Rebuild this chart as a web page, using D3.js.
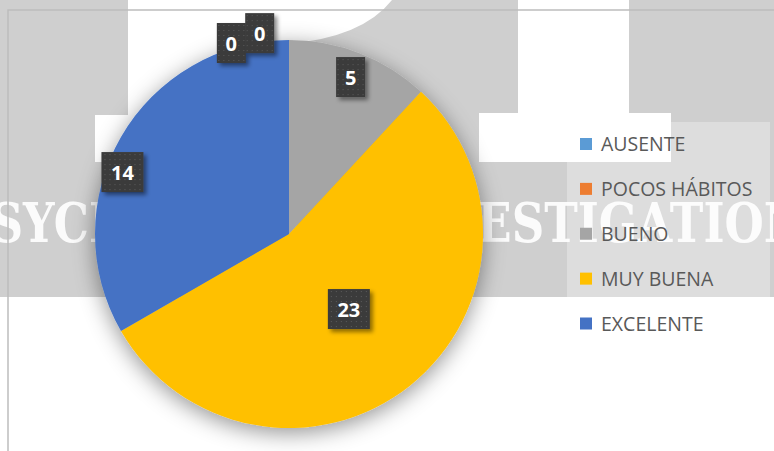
<!DOCTYPE html>
<html>
<head>
<meta charset="utf-8">
<script src="https://cdn.jsdelivr.net/npm/d3@7"></script>
<style>
  html, body { margin: 0; padding: 0; background: #ffffff; }
  svg { display: block; }
</style>
</head>
<body>
<svg id="chart" width="774" height="451"></svg>
<script>
// ---- data ----
const categories = ["AUSENTE", "POCOS HÁBITOS", "BUENO", "MUY BUENA", "EXCELENTE"];
const values = [0, 0, 5, 23, 14];
const colors = ["#5B9BD5", "#ED7D31", "#A5A5A5", "#FFC000", "#4472C4"];
const watermarkWords = ["PSYCHOLOGY", "INVESTIGATION"];

// ---- layout ----
const W = 774, H = 451;
const cx = 289, cy = 234, R = 194;
// label placement: angular shift (deg) from slice mid-angle and radius
const labelPlacement = [
  { da: -16.8, r: 199.5 },
  { da: -8.3, r: 203 },
  { da: 0, r: 168.6 },
  { da: 0, r: 96 },
  { da: -9.6, r: 177.7 }
];

const svg = d3.select("#chart");
const defs = svg.append("defs");

// pie shadow
const f1 = defs.append("filter").attr("id", "pieShadow")
  .attr("x", "-30%").attr("y", "-30%").attr("width", "160%").attr("height", "160%");
f1.append("feDropShadow").attr("dx", 0).attr("dy", 5).attr("stdDeviation", 11)
  .attr("flood-color", "#000").attr("flood-opacity", 0.42);

// label shadow
const f2 = defs.append("filter").attr("id", "lblShadow")
  .attr("x", "-30%").attr("y", "-30%").attr("width", "160%").attr("height", "160%");
f2.append("feDropShadow").attr("dx", 3).attr("dy", 3).attr("stdDeviation", 2)
  .attr("flood-color", "#000").attr("flood-opacity", 0.45);

// dotted pattern for label boxes
const pat = defs.append("pattern").attr("id", "dots").attr("patternUnits", "userSpaceOnUse")
  .attr("width", 5).attr("height", 5);
pat.append("rect").attr("width", 5).attr("height", 5).attr("fill", "#3b3b3b");
pat.append("rect").attr("x", 2).attr("y", 2).attr("width", 1).attr("height", 1).attr("fill", "#5a5a5a");

// ---- background watermark ----
const bg = svg.append("g");
bg.append("rect").attr("x", 0).attr("y", 0).attr("width", W).attr("height", 297).attr("fill", "#cfcfcf");
// white "P" shape
bg.append("path")
  .attr("d", "M128,0 L392,0 Q362,38 286,44 L250,44 L250,115 L275,115 L275,162 L95,162 L95,115 L128,115 Z")
  .attr("fill", "#ffffff");
// white "I" shape
bg.append("path")
  .attr("d", "M518,0 L629,0 L629,113 L671,113 L671,162 L479,162 L479,113 L518,113 Z")
  .attr("fill", "#ffffff");

// watermark text
bg.append("text")
  .attr("x", -42).attr("y", 242)
  .attr("textLength", 350).attr("lengthAdjust", "spacingAndGlyphs")
  .attr("font-family", "'DejaVu Serif', serif").attr("font-weight", "bold")
  .attr("font-size", 55).attr("fill", "#ffffff").attr("fill-opacity", 0.92)
  .text(watermarkWords[0]);
bg.append("text")
  .attr("x", 380).attr("y", 242)
  .attr("textLength", 425).attr("lengthAdjust", "spacingAndGlyphs")
  .attr("font-family", "'DejaVu Serif', serif").attr("font-weight", "bold")
  .attr("font-size", 55).attr("fill", "#ffffff").attr("fill-opacity", 0.92)
  .text(watermarkWords[1]);

// plot area border
svg.append("path")
  .attr("d", `M8,${H} L8,10 L${W},10`)
  .attr("fill", "none").attr("stroke", "#bdbdbd").attr("stroke-width", 1.5);

// ---- pie ----
const pie = d3.pie().sort(null).value(d => d.v).startAngle(0).endAngle(2 * Math.PI);
const data = categories.map((c, i) => ({ c, v: values[i], col: colors[i] }));
const arcs = pie(data);
const arc = d3.arc().innerRadius(0).outerRadius(R);

const pg = svg.append("g").attr("transform", `translate(${cx},${cy})`)
  .attr("filter", "url(#pieShadow)");
pg.selectAll("path").data(arcs.filter(a => a.data.v > 0)).enter().append("path")
  .attr("d", arc).attr("fill", d => d.data.col);

// ---- legend ----
svg.append("rect").attr("x", 567).attr("y", 122).attr("width", 203).attr("height", 224)
  .attr("fill", "#ffffff").attr("fill-opacity", 0.3);
const ly = d3.scalePoint().domain(categories).range([144, 323.5]);
const lg = svg.append("g");
const items = lg.selectAll("g").data(data).enter().append("g")
  .attr("transform", d => `translate(580,${ly(d.c)})`);
items.append("rect").attr("x", 0).attr("y", -6).attr("width", 12).attr("height", 12)
  .attr("fill", d => d.col);
items.append("text").attr("x", 21).attr("y", 7)
  .attr("font-family", "'Open Sans', sans-serif").attr("font-size", 19.5)
  .attr("fill", "#595959").text(d => d.c);

// ---- data labels ----
const lblG = svg.append("g");
arcs.forEach((a, i) => {
  const mid = (a.startAngle + a.endAngle) / 2 + labelPlacement[i].da * Math.PI / 180;
  const x = cx + labelPlacement[i].r * Math.sin(mid);
  const y = cy - labelPlacement[i].r * Math.cos(mid);
  const txt = String(a.data.v);
  const w = txt.length === 1 ? 29 : 42;
  const g = lblG.append("g").attr("transform", `translate(${x},${y})`);
  g.append("rect").attr("x", -w / 2).attr("y", -20).attr("width", w).attr("height", 40)
    .attr("fill", "url(#dots)").attr("filter", "url(#lblShadow)");
  g.append("text").attr("x", 0).attr("y", 7.5).attr("text-anchor", "middle")
    .attr("font-family", "'Open Sans', sans-serif").attr("font-weight", "bold")
    .attr("font-size", 20).attr("fill", "#ffffff").text(txt);
});
</script>
</body>
</html>
